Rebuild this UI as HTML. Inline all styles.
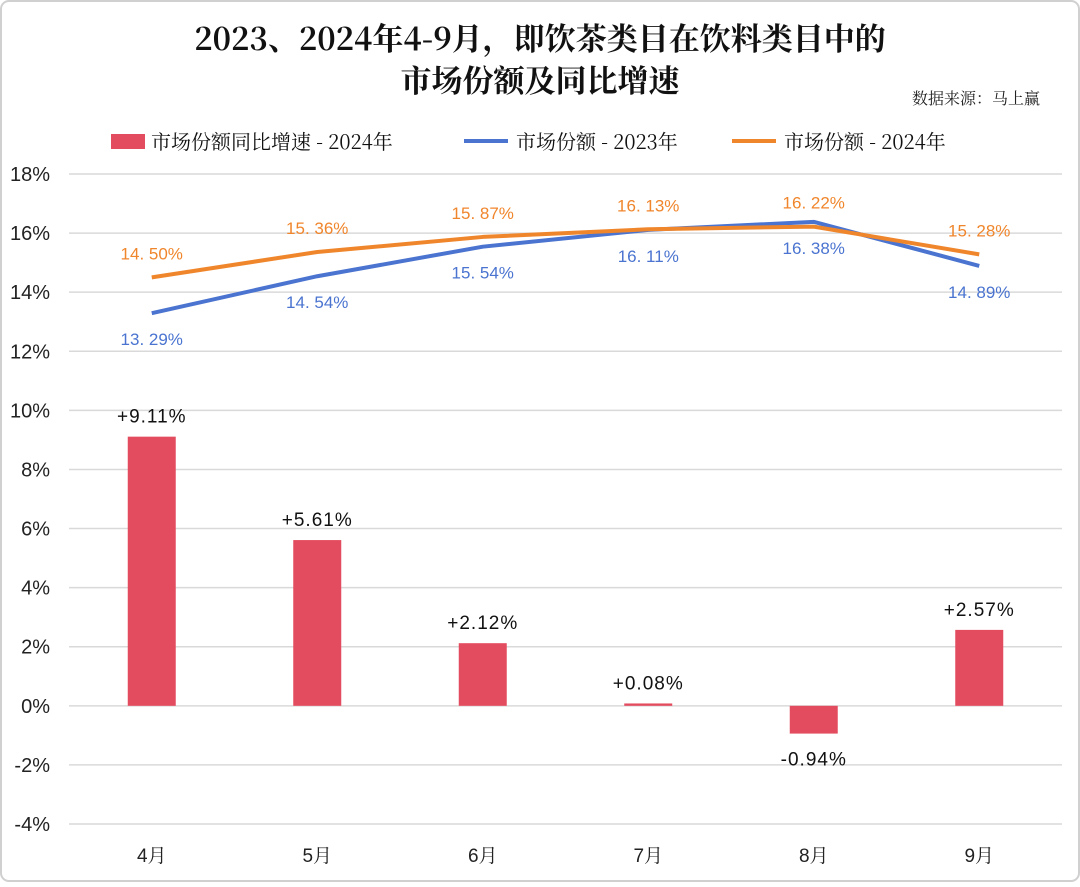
<!DOCTYPE html>
<html><head><meta charset="utf-8"><style>
body{margin:0;background:#fff;}
svg text{font-family:"Liberation Sans","Noto Serif CJK SC",serif;}
svg text.cjk{font-family:"Noto Serif CJK SC",serif;}
</style></head><body>
<svg id="c" width="1080" height="882" xmlns="http://www.w3.org/2000/svg">
<rect x="1" y="1" width="1078" height="880" rx="8" fill="#fff" stroke="#d0d0d0" stroke-width="2"/>
<text class="cjk" x="540" y="50" text-anchor="middle" font-size="31" font-weight="bold" fill="#111">2023、2024年4-9月，即饮茶类目在饮料类目中的</text>
<text class="cjk" x="540" y="92" text-anchor="middle" font-size="31" font-weight="bold" fill="#111">市场份额及同比增速</text>
<text class="cjk" x="1040" y="104" text-anchor="end" font-size="16" fill="#222">数据来源：马上赢</text>
<g>
<rect x="111" y="134" width="34" height="15" fill="#e34c5e"/>
<text class="cjk" x="151" y="149" font-size="20" fill="#111">市场份额同比增速 - 2024年</text>
<line x1="464" y1="141" x2="508" y2="141" stroke="#4a74d0" stroke-width="4"/>
<text class="cjk" x="516" y="149" font-size="20" fill="#111">市场份额 - 2023年</text>
<line x1="732" y1="141" x2="776" y2="141" stroke="#f0862c" stroke-width="4"/>
<text class="cjk" x="784" y="149" font-size="20" fill="#111">市场份额 - 2024年</text>
</g>
<g id="plot"></g>
</svg>
<script>
const categories=["4月","5月","6月","7月","8月","9月"];
const growth2024=[9.11,5.61,2.12,0.08,-0.94,2.57];
const share2023=[13.29,14.54,15.54,16.11,16.38,14.89];
const share2024=[14.50,15.36,15.87,16.13,16.22,15.28];
const yTicks=[18,16,14,12,10,8,6,4,2,0,-2,-4];
const NS="http://www.w3.org/2000/svg";
const g=document.getElementById('plot');
const L=69,R=1062,T=174,B=824,yMax=18,yMin=-4;
const y=v=>T+(yMax-v)/(yMax-yMin)*(B-T);
const step=(R-L)/categories.length;
const x=i=>L+step*(i+0.5);
function mk(t,a,txt){const e=document.createElementNS(NS,t);for(const k in a)e.setAttribute(k,a[k]);if(txt!==undefined)e.textContent=txt;g.appendChild(e);return e;}
yTicks.forEach(v=>{
 const l=mk('line',{x1:L,x2:R,y1:y(v),y2:y(v),stroke:'#d9d9d9','stroke-width':1.5});
 
 
 const t=mk('text',{x:50,y:y(v)+7,'text-anchor':'end','font-size':20,fill:'#222'},v+'%');
 
 
});
categories.forEach((c,i)=>{
 const t=mk('text',{x:x(i),y:862,'text-anchor':'middle','font-size':19,fill:'#222'},c);
 
 
 const v=growth2024[i];
 const b=mk('rect',{x:x(i)-24,y:Math.min(y(v),y(0)),width:48,height:Math.max(Math.abs(y(v)-y(0)),1.5),fill:'#e34c5e'});
 
 
 const ly=v>=0?y(v)-14:y(v)+32;
 const bl=mk('text',{x:x(i),y:ly,'text-anchor':'middle','font-size':19,fill:'#111','letter-spacing':1},(v>=0?'+':'')+v.toFixed(2)+'%');
 
 
});
function line(data,color,name,above){
 const p=mk('polyline',{points:data.map((v,i)=>x(i)+','+y(v)).join(' '),fill:'none',stroke:color,'stroke-width':4,'stroke-linejoin':'round'});
 
 
 data.forEach((v,i)=>{
  const t=mk('text',{x:x(i),y:above[i]?y(v)-18:y(v)+32,'text-anchor':'middle','font-size':17,fill:color},v.toFixed(2).replace('.','. ')+'%');
  
  
 });
}
line(share2023,'#4a74d0','line-share-2023',[false,false,false,false,false,false]);
line(share2024,'#f0862c','line-share-2024',[true,true,true,true,true,true]);
</script>
</body></html>
